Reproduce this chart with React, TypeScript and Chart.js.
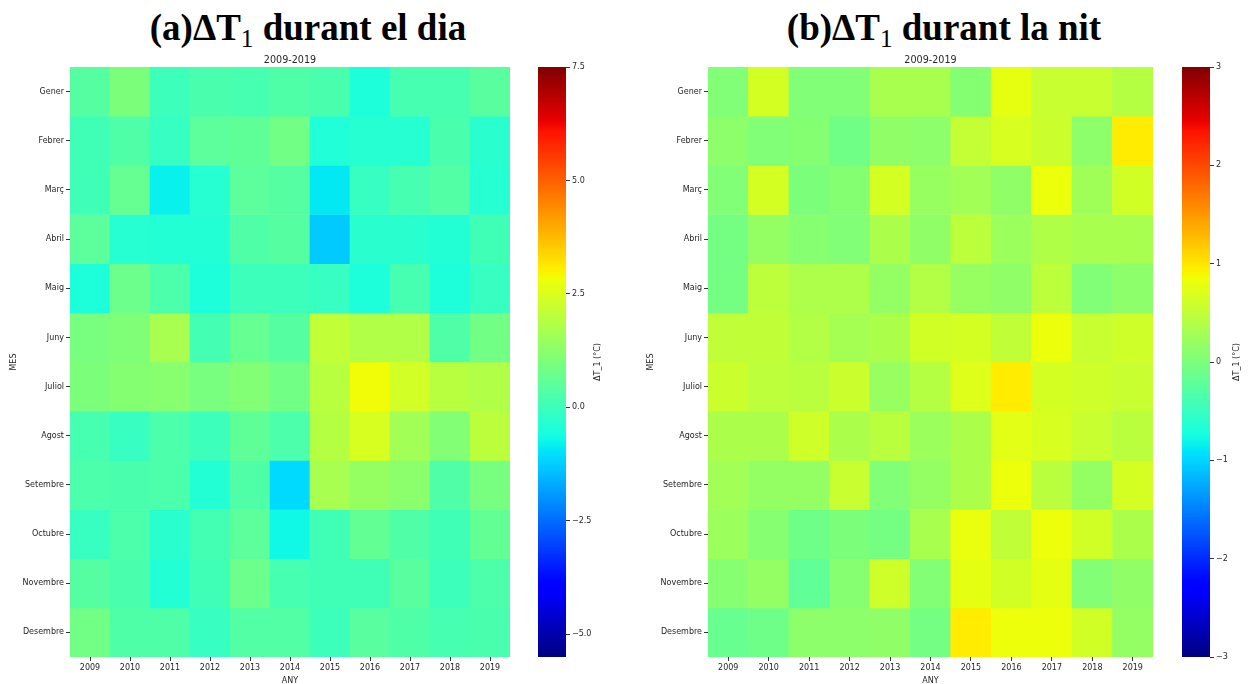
import React, { useEffect, useRef } from 'react';
import { Chart, registerables } from 'chart.js';

Chart.register(...registerables);

const YEARS = ['2009', '2010', '2011', '2012', '2013', '2014', '2015', '2016', '2017', '2018', '2019'];
const MONTHS = ['Gener', 'Febrer', 'Març', 'Abril', 'Maig', 'Juny', 'Juliol', 'Agost', 'Setembre', 'Octubre', 'Novembre', 'Desembre'];

// (a) ΔT1 durant el dia — one row per month, one value per year (°C)
const DAY_GENER = [0.4, 1.0, 0.0, 0.2, 0.15, 0.3, 0.2, -0.5, 0.15, 0.15, 0.45];
const DAY_FEBRER = [0.05, 0.3, -0.1, 0.5, 0.55, 0.85, -0.45, -0.35, -0.35, 0.2, -0.3];
const DAY_MARC = [0.05, 0.65, -0.8, -0.35, 0.5, 0.4, -0.9, -0.1, 0.15, 0.35, -0.35];
const DAY_ABRIL = [0.5, -0.35, -0.4, -0.4, 0.3, 0.4, -1.3, -0.3, -0.3, -0.4, 0.05];
const DAY_MAIG = [-0.5, 0.75, 0.25, -0.5, 0.0, 0.0, -0.1, -0.5, 0.15, -0.5, -0.1];
const DAY_JUNY = [0.95, 1.05, 1.7, 0.1, 0.65, 0.4, 2.1, 1.85, 1.85, 0.3, 0.85];
const DAY_JULIOL = [1.0, 1.15, 1.2, 0.95, 1.1, 0.85, 1.95, 2.85, 2.35, 1.95, 1.85];
const DAY_AGOST = [0.15, -0.1, 0.25, 0.0, 0.55, 0.25, 1.9, 2.45, 1.6, 1.1, 2.0];
const DAY_SETEMBRE = [0.25, 0.2, 0.25, -0.4, 0.3, -1.1, 1.7, 1.4, 1.25, 0.3, 0.95];
const DAY_OCTUBRE = [-0.1, 0.25, -0.3, 0.1, 0.5, -0.7, 0.05, 0.6, 0.3, 0.05, 0.6];
const DAY_NOVEMBRE = [0.4, 0.2, -0.4, 0.05, 0.75, 0.15, 0.05, 0.05, 0.45, 0.0, 0.25];
const DAY_DESEMBRE = [0.85, 0.3, 0.3, -0.1, 0.35, 0.35, 0.0, 0.45, 0.3, 0.15, 0.2];

// (b) ΔT1 durant la nit
const NIGHT_GENER = [0.03, 0.65, 0.03, 0.03, 0.33, 0.33, 0.07, 0.78, 0.55, 0.55, 0.42];
const NIGHT_FEBRER = [0.13, 0.03, 0.07, -0.08, 0.15, 0.12, 0.52, 0.67, 0.57, 0.12, 0.96];
const NIGHT_MARC = [0.03, 0.65, 0.0, 0.07, 0.65, 0.2, 0.28, 0.15, 0.82, 0.27, 0.62];
const NIGHT_ABRIL = [-0.05, 0.18, 0.08, 0.03, 0.35, 0.15, 0.47, 0.23, 0.38, 0.33, 0.33];
const NIGHT_MAIG = [-0.05, 0.47, 0.37, 0.37, 0.18, 0.4, 0.2, 0.15, 0.47, 0.03, 0.12];
const NIGHT_JUNY = [0.5, 0.5, 0.4, 0.3, 0.35, 0.62, 0.65, 0.5, 0.82, 0.55, 0.6];
const NIGHT_JULIOL = [0.57, 0.48, 0.45, 0.57, 0.2, 0.42, 0.72, 0.96, 0.65, 0.6, 0.55];
const NIGHT_AGOST = [0.35, 0.35, 0.6, 0.35, 0.45, 0.23, 0.35, 0.75, 0.67, 0.55, 0.45];
const NIGHT_SETEMBRE = [0.28, 0.18, 0.18, 0.55, 0.03, 0.18, 0.35, 0.82, 0.45, 0.18, 0.65];
const NIGHT_OCTUBRE = [0.23, 0.08, -0.1, 0.0, -0.05, 0.33, 0.8, 0.5, 0.83, 0.62, 0.35];
const NIGHT_NOVEMBRE = [0.08, 0.18, -0.2, 0.08, 0.6, 0.05, 0.77, 0.62, 0.77, 0.05, 0.15];
const NIGHT_DESEMBRE = [-0.15, -0.1, 0.13, 0.13, 0.15, -0.05, 0.96, 0.83, 0.83, 0.62, 0.18];

const DAY_ROWS = [DAY_GENER, DAY_FEBRER, DAY_MARC, DAY_ABRIL, DAY_MAIG, DAY_JUNY, DAY_JULIOL, DAY_AGOST, DAY_SETEMBRE, DAY_OCTUBRE, DAY_NOVEMBRE, DAY_DESEMBRE];
const NIGHT_ROWS = [NIGHT_GENER, NIGHT_FEBRER, NIGHT_MARC, NIGHT_ABRIL, NIGHT_MAIG, NIGHT_JUNY, NIGHT_JULIOL, NIGHT_AGOST, NIGHT_SETEMBRE, NIGHT_OCTUBRE, NIGHT_NOVEMBRE, NIGHT_DESEMBRE];

const DAY_RANGE = [-5.5, 7.5];
const DAY_TICKS = [-5, -2.5, 0, 2.5, 5, 7.5];
const NIGHT_RANGE = [-3, 3];
const NIGHT_TICKS = [-3, -2, -1, 0, 1, 2, 3];

// matplotlib "jet" colormap segments
const JET_R = [[0, 0], [0.35, 0], [0.66, 1], [0.89, 1], [1, 0.5]];
const JET_G = [[0, 0], [0.125, 0], [0.375, 1], [0.64, 1], [0.91, 0], [1, 0]];
const JET_B = [[0, 0.5], [0.11, 1], [0.34, 1], [0.65, 0], [1, 0]];

function seg(pts: number[][], t: number): number {
  for (let i = 1; i < pts.length; i++) {
    if (t <= pts[i][0]) {
      const [x0, y0] = pts[i - 1];
      const [x1, y1] = pts[i];
      return y0 + ((y1 - y0) * (t - x0)) / (x1 - x0);
    }
  }
  return pts[pts.length - 1][1];
}

function jet(t: number): string {
  const u = Math.max(0, Math.min(1, t));
  const r = Math.round(255 * seg(JET_R, u));
  const g = Math.round(255 * seg(JET_G, u));
  const b = Math.round(255 * seg(JET_B, u));
  return `rgb(${r},${g},${b})`;
}

const TXT = '#262626';
const FONT = "'DejaVu Sans', sans-serif";
Chart.defaults.font.family = FONT;
Chart.defaults.color = TXT;

function makeHeatmap(canvas: HTMLCanvasElement, rows: number[][], range: number[], yWidth: number, mesPad: number) {
  return new Chart(canvas, {
    type: 'bar',
    data: {
      labels: YEARS,
      datasets: MONTHS.map((m, i) => ({
        label: m,
        data: rows[i].map(() => 1),
        backgroundColor: rows[i].map((v) => jet((v - range[0]) / (range[1] - range[0]))),
        borderWidth: 0,
        barPercentage: 1,
        categoryPercentage: 1,
      })),
    },
    options: {
      animation: false,
      responsive: false,
      events: [],
      layout: { padding: { top: 0, right: 10, bottom: 0, left: 0 } },
      plugins: {
        legend: { display: false },
        tooltip: { enabled: false },
        title: {
          display: true,
          fullSize: false,
          text: '2009-2019',
          color: TXT,
          font: { size: 9.6, weight: 'normal', family: FONT },
          padding: { top: 15, bottom: 0.5 },
        },
      },
      scales: {
        x: {
          stacked: true,
          offset: true,
          grid: { offset: false, drawOnChartArea: false, drawTicks: true, tickLength: 4, color: '#333' },
          border: { display: false },
          ticks: { font: { size: 8 }, color: TXT, padding: 2, maxRotation: 0, autoSkip: false },
          title: { display: true, text: 'ANY', color: TXT, font: { size: 8 }, padding: { top: 0, bottom: 2.2 } },
          afterFit: (s: any) => {
            s.height = 31;
          },
        },
        y: {
          type: 'linear',
          stacked: true,
          reverse: true,
          min: 0,
          max: MONTHS.length,
          afterBuildTicks: (s: any) => {
            s.ticks = MONTHS.map((_, i) => ({ value: i + 0.5 }));
          },
          ticks: {
            callback: (_v: any, i: number) => MONTHS[i],
            font: { size: 8 },
            color: TXT,
            padding: 2,
            autoSkip: false,
          },
          grid: { drawOnChartArea: false, drawTicks: true, tickLength: 4, color: '#333' },
          border: { display: false },
          title: { display: true, text: 'MES', color: TXT, font: { size: 8 }, padding: { top: mesPad, bottom: 0 } },
          afterFit: (s: any) => {
            s.width = yWidth;
          },
        },
      },
    } as any,
  });
}

function makeColorbar(
  canvas: HTMLCanvasElement,
  range: number[],
  ticks: number[],
  fmt: (v: number) => string,
  padLeft: number,
  axisWidth: number,
  labelX: number
) {
  return new Chart(canvas, {
    type: 'bar',
    data: {
      labels: [''],
      datasets: [
        {
          data: [range as any],
          backgroundColor: (ctx: any) => {
            const area = ctx.chart.chartArea;
            if (!area) return 'transparent';
            const g = ctx.chart.ctx.createLinearGradient(0, area.bottom, 0, area.top);
            for (let i = 0; i <= 100; i++) g.addColorStop(i / 100, jet(i / 100));
            return g;
          },
          borderWidth: 0,
          barPercentage: 1,
          categoryPercentage: 1,
          inflateAmount: 0,
        } as any,
      ],
    },
    options: {
      animation: false,
      responsive: false,
      events: [],
      layout: { padding: { top: 27, right: 0, bottom: 31, left: padLeft } },
      plugins: { legend: { display: false }, tooltip: { enabled: false }, title: { display: false } },
      scales: {
        x: { display: false, offset: true },
        y: {
          position: 'right',
          min: range[0],
          max: range[1],
          afterBuildTicks: (s: any) => {
            s.ticks = ticks.map((v) => ({ value: v }));
          },
          ticks: { callback: (v: any) => fmt(Number(v)), font: { size: 8 }, color: TXT, padding: 2, autoSkip: false },
          grid: { drawOnChartArea: false, drawTicks: true, tickLength: 4, color: '#333' },
          border: { display: false },
          afterFit: (s: any) => {
            s.width = axisWidth;
          },
        },
      },
    } as any,
    plugins: [
      {
        id: 'cbarLabel',
        afterDraw(chart: any) {
          const { ctx, chartArea } = chart;
          ctx.save();
          ctx.translate(labelX, (chartArea.top + chartArea.bottom) / 2);
          ctx.rotate(-Math.PI / 2);
          ctx.font = `8px ${FONT}`;
          ctx.textAlign = 'center';
          ctx.textBaseline = 'middle';
          ctx.fillStyle = TXT;
          ctx.fillText('ΔT_1 (°C)', 0, 0);
          ctx.restore();
        },
      },
    ],
  });
}

const minus = (s: string) => s.replace('-', '\u2212');

export default function App() {
  const dayRef = useRef<HTMLCanvasElement>(null);
  const dayCbRef = useRef<HTMLCanvasElement>(null);
  const nightRef = useRef<HTMLCanvasElement>(null);
  const nightCbRef = useRef<HTMLCanvasElement>(null);

  useEffect(() => {
    const charts = [
      makeHeatmap(dayRef.current!, DAY_ROWS, DAY_RANGE, 70, 9.2),
      makeColorbar(dayCbRef.current!, DAY_RANGE, DAY_TICKS, (v) => minus(v.toFixed(1)), 18, 54, 78),
      makeHeatmap(nightRef.current!, NIGHT_ROWS, NIGHT_RANGE, 72, 10.2),
      makeColorbar(nightCbRef.current!, NIGHT_RANGE, NIGHT_TICKS, (v) => minus(String(v)), 19, 38, 74),
    ];
    return () => charts.forEach((c) => c.destroy());
  }, []);

  const titleStyle: React.CSSProperties = {
    position: 'absolute',
    top: 10,
    width: 600,
    textAlign: 'center',
    fontFamily: "'Liberation Serif', 'DejaVu Serif', serif",
    fontWeight: 'bold',
    fontSize: 37,
    lineHeight: '36px',
    color: '#000',
    whiteSpace: 'nowrap',
  };
  const subStyle: React.CSSProperties = { fontSize: '0.68em', verticalAlign: '-0.28em', lineHeight: 0, fontWeight: 'normal' };
  const cv = (left: number, width: number): React.CSSProperties => ({ position: 'absolute', left, top: 40, width, height: 648 });

  return (
    <div style={{ position: 'fixed', left: 0, top: 0, width: 1248, height: 684, overflow: 'hidden', background: '#fff' }}>
      <div style={{ ...titleStyle, left: 308 - 300 }}>
        (a)ΔT<span style={subStyle}>1</span> durant el dia
      </div>
      <div style={{ ...titleStyle, left: 944 - 300 }}>
        (b)ΔT<span style={subStyle}>1</span> durant la nit
      </div>
      <canvas ref={dayRef} width={520} height={648} style={cv(0, 520)} />
      <canvas ref={dayCbRef} width={100} height={648} style={cv(520, 100)} />
      <canvas ref={nightRef} width={527} height={648} style={cv(636, 527)} />
      <canvas ref={nightCbRef} width={85} height={648} style={cv(1163, 85)} />
    </div>
  );
}
